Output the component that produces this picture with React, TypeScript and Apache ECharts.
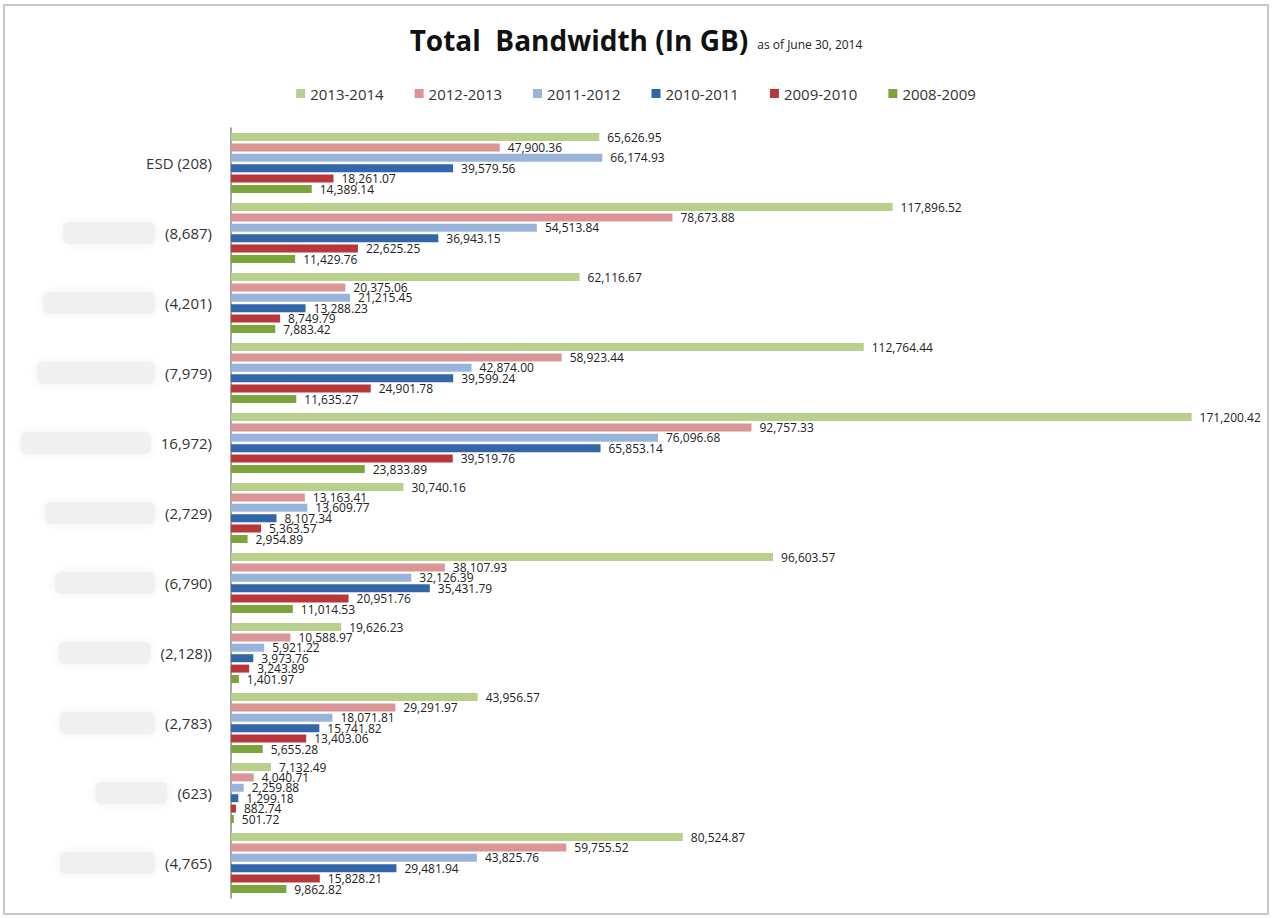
import React, { useEffect, useRef } from "react";
import * as echarts from "echarts";

const categories = ["ESD (208)", "(8,687)", "(4,201)", "(7,979)", "16,972)", "(2,729)", "(6,790)", "(2,128))", "(2,783)", "(623)", "(4,765)"];
const seriesNames = ["2013-2014", "2012-2013", "2011-2012", "2010-2011", "2009-2010", "2008-2009"];
const v2013_2014 = [65626.95, 117896.52, 62116.67, 112764.44, 171200.42, 30740.16, 96603.57, 19626.23, 43956.57, 7132.49, 80524.87];
const v2012_2013 = [47900.36, 78673.88, 20375.06, 58923.44, 92757.33, 13163.41, 38107.93, 10588.97, 29291.97, 4040.71, 59755.52];
const v2011_2012 = [66174.93, 54513.84, 21215.45, 42874.0, 76096.68, 13609.77, 32126.39, 5921.22, 18071.81, 2259.88, 43825.76];
const v2010_2011 = [39579.56, 36943.15, 13288.23, 39599.24, 65853.14, 8107.34, 35431.79, 3973.76, 15741.82, 1299.18, 29481.94];
const v2009_2010 = [18261.07, 22625.25, 8749.79, 24901.78, 39519.76, 5363.57, 20951.76, 3243.89, 13403.06, 882.74, 15828.21];
const v2008_2009 = [14389.14, 11429.76, 7883.42, 11635.27, 23833.89, 2954.89, 11014.53, 1401.97, 5655.28, 501.72, 9862.82];

const seriesValues = [v2013_2014, v2012_2013, v2011_2012, v2010_2011, v2009_2010, v2008_2009];
const seriesColors = ["#b9cf8c", "#dc9596", "#98b4da", "#3366a8", "#b8373a", "#7ba43c"];
// widths of the blurred (redacted) part of each category label
const blurWidths = [0, 92, 112, 118, 130, 110, 100, 92, 95, 72, 95];

export default function App() {
  const ref = useRef<HTMLDivElement>(null);
  useEffect(() => {
    document.body.style.margin = "0";
    const chart = echarts.init(ref.current!, null, { renderer: "svg" });
    const rich: any = {
      t: { fontSize: 15, color: "#333", fontFamily: "Liberation Sans Narrow, Open Sans, sans-serif" },
      g: { width: 10 },
    };
    blurWidths.forEach((w, i) => {
      rich["b" + i] = {
        width: w,
        height: w ? 22 : 0,
        backgroundColor: w ? "#f0f0f0" : "transparent",
        shadowColor: w ? "#f0f0f0" : "transparent",
        shadowBlur: 10,
        borderRadius: 6,
      };
    });
    const fmt = (v: number) =>
      v.toLocaleString("en-US", { minimumFractionDigits: 2, maximumFractionDigits: 2 });
    chart.setOption({
      animation: false,
      backgroundColor: "#ffffff",
      title: {
        left: "center",
        top: 21,
        text: "{a|Total  Bandwidth (In GB)} {b|as of June 30, 2014}",
        textStyle: {
          rich: {
            a: { fontSize: 28, fontWeight: "bold", color: "#111", fontFamily: "Open Sans, sans-serif" },
            b: { fontSize: 12, fontWeight: "normal", color: "#222", fontFamily: "Liberation Sans Narrow, Open Sans, sans-serif", padding: [8, 0, 0, 4] },
          },
        },
      },
      legend: {
        top: 81,
        left: "center",
        itemWidth: 9,
        itemHeight: 9,
        itemGap: 31,
        icon: "rect",
        textStyle: { fontSize: 15, color: "#333", fontFamily: "Liberation Sans Narrow, Open Sans, sans-serif" },
        data: seriesNames,
      },
      graphic: [
        {
          type: "rect",
          shape: { x: 4, y: 5, width: 1264, height: 909 },
          style: { fill: "none", stroke: "#c8c8c8", lineWidth: 2 },
          silent: true,
        },
      ],
      grid: { left: 231, right: 31, top: 128, bottom: 20, containLabel: false },
      xAxis: {
        type: "value",
        min: 0,
        max: 180000,
        show: false,
      },
      yAxis: {
        type: "category",
        inverse: true,
        data: categories,
        axisLine: { show: true, lineStyle: { color: "#8a8a8a", width: 1.5 } },
        axisTick: { show: false },
        axisLabel: {
          margin: 19,
          formatter: (v: string, i: number) => (blurWidths[i] ? `{b${i}|}{g|}{t|${v}}` : `{t|${v}}`),
          rich,
        },
      },
      series: seriesNames.map((name, si) => ({
        name,
        type: "bar",
        data: seriesValues[si],
        barWidth: 8,
        barGap: "30%",
        barCategoryGap: "10%",
        itemStyle: { color: seriesColors[si] },
        label: {
          show: true,
          position: "right",
          distance: 8,
          fontSize: 12,
          color: "#222",
          fontFamily: "Liberation Sans Narrow, Open Sans, sans-serif",
          formatter: (p: any) => fmt(p.value),
        },
      })),
    });
    return () => chart.dispose();
  }, []);
  return <div ref={ref} style={{ width: 1272, height: 918 }} />;
}
